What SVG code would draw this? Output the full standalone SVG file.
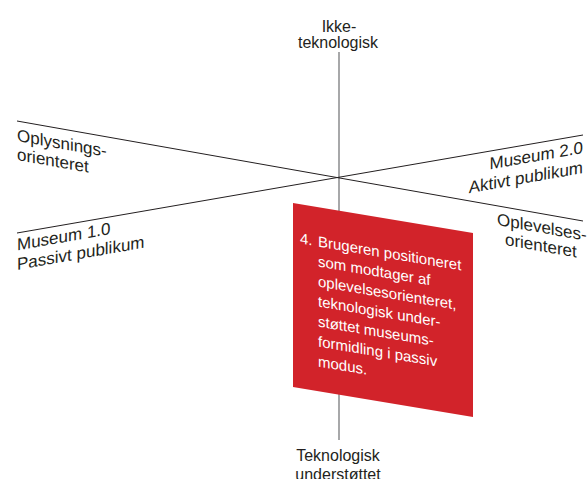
<svg xmlns="http://www.w3.org/2000/svg" width="587" height="479" viewBox="0 0 587 479">
  <style>
    .lbl { font-family: "Liberation Sans", Arial, Helvetica, sans-serif; font-size: 16px; fill: #231f20; }
    .lbl-sk { font-family: "Liberation Sans", Arial, Helvetica, sans-serif; font-size: 17px; fill: #231f20; }
    .box-text { font-family: "Liberation Sans", Arial, Helvetica, sans-serif; font-size: 15px; fill: #ffffff; }
    .axis { stroke: #231f20; stroke-width: 1; fill: none; }
    .axis-v { stroke: #6d6e71; stroke-width: 1.2; fill: none; }
  </style>
  <rect width="587" height="479" fill="#ffffff"/>

  <!-- axes -->
  <g id="connectors">
    <line class="axis-v" x1="339" y1="52" x2="339" y2="440"/>
    <line class="axis" x1="17" y1="121" x2="583" y2="221"/>
    <line class="axis" x1="17" y1="233" x2="583" y2="135"/>
  </g>

  <!-- axis end labels -->
  <g id="ikke-teknologisk">
    <text class="lbl" x="339" y="32" text-anchor="middle">Ikke-</text>
    <text class="lbl" x="338" y="47.5" text-anchor="middle">teknologisk</text>
  </g>
  <g id="teknologisk-understottet">
    <text class="lbl" x="338" y="461" text-anchor="middle">Teknologisk</text>
    <text class="lbl" x="338" y="480" text-anchor="middle">understøttet</text>
  </g>
  <g id="oplysningsorienteret" transform="translate(17,141) skewY(10)">
    <text class="lbl-sk" x="0" y="0">Oplysnings-</text>
    <text class="lbl-sk" x="0" y="19">orienteret</text>
  </g>
  <g id="museum-1" transform="translate(17,250.5) skewY(-10)">
    <text class="lbl-sk" x="0" y="0">Museum 1.0</text>
    <text class="lbl-sk" x="0" y="19.5">Passivt publikum</text>
  </g>
  <g id="museum-2" transform="translate(583,153) skewY(-10)">
    <text class="lbl-sk" x="0" y="0" text-anchor="end">Museum 2.0</text>
    <text class="lbl-sk" x="0" y="20" text-anchor="end">Aktivt publikum</text>
  </g>
  <g id="oplevelsesorienteret" transform="translate(497,225) skewY(10)">
    <text class="lbl-sk" x="0" y="0">Oplevelses-</text>
    <text class="lbl-sk" x="8" y="18.5">orienteret</text>
  </g>

  <!-- highlighted position 4 -->
  <g id="position-4" transform="translate(293,203) skewY(9.5)">
    <rect x="0" y="0" width="180" height="184" fill="#d2232a"/>
    <text class="box-text" x="7" y="39.3">4.</text>
    <text class="box-text" x="25" y="39.3">Brugeren positioneret</text>
    <text class="box-text" x="25" y="59.3">som modtager af</text>
    <text class="box-text" x="25" y="79.3">oplevelsesorienteret,</text>
    <text class="box-text" x="25" y="99.3">teknologisk under-</text>
    <text class="box-text" x="25" y="119.3">støttet museums-</text>
    <text class="box-text" x="25" y="139.3">formidling i passiv</text>
    <text class="box-text" x="25" y="159.3">modus.</text>
  </g>
</svg>
